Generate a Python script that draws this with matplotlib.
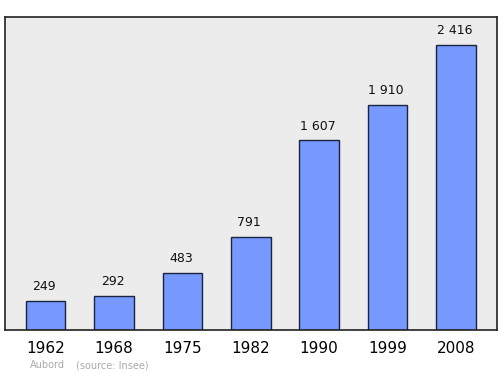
import matplotlib

matplotlib.use("Agg")
import matplotlib.pyplot as plt

years = ["1962", "1968", "1975", "1982", "1990", "1999", "2008"]
population = [249, 292, 483, 791, 1607, 1910, 2416]
value_labels = ["249", "292", "483", "791", "1 607", "1 910", "2 416"]
town = "Aubord"
source = "(source: Insee)"

fig = plt.figure(figsize=(5, 3.74), dpi=100)
ax = fig.add_axes([0.01, 0.1176, 0.984, 0.837])
ax.set_facecolor("#ececec")

xs = range(len(years))
ax.bar(xs, population, width=0.58, color="#7799ff", edgecolor="#1a2340", linewidth=1.0, zorder=2)
for x, v, lab in zip(xs, population, value_labels):
    ax.annotate(lab, (x, v), textcoords="offset points", xytext=(-1, 5.5),
                ha="center", va="bottom", fontsize=9, color="#111111")

ax.set_xlim(-0.593, 6.6)
ax.set_ylim(0, 2653)
ax.set_yticks([])
ax.set_xticks(list(xs))
ax.set_xticklabels(years, fontsize=11)
ax.tick_params(axis="x", length=0, pad=8)
for s in ax.spines.values():
    s.set_color("#222222")
    s.set_linewidth(1.2)

fig.text(0.06, 0.016, town, fontsize=7, color="#aaaaaa", ha="left")
fig.text(0.152, 0.016, source, fontsize=7, color="#aaaaaa", ha="left")

fig.savefig("out.png", dpi=100)
